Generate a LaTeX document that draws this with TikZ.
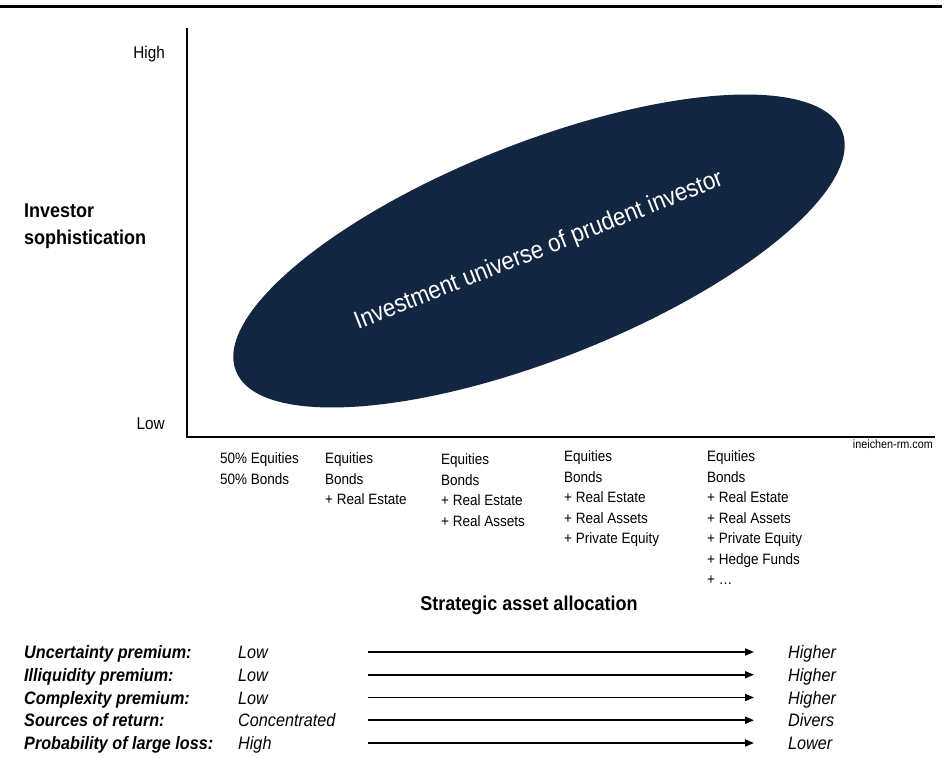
\documentclass[tikz,border=0pt]{standalone}
\usepackage{fontspec}
\setmainfont[FakeStretch=0.9]{Liberation Sans}
\usetikzlibrary{arrows.meta,shapes.geometric}
\definecolor{navy}{RGB}{18,38,66}
\begin{document}
\begin{tikzpicture}[x=1pt,y=-1pt,
  axisline/.style={line width=2.6pt},
  coltext/.style={anchor=north west, inner sep=0pt, align=left, font=\fontsize{15}{20.5}\selectfont},
  ticklab/.style={anchor=base east, inner sep=0pt, font=\fontsize{17}{20}\selectfont},
  boldlab/.style={inner sep=0pt, font=\fontsize{20}{27}\selectfont\bfseries},
  rowlab/.style={anchor=base west, inner sep=0pt, font=\fontsize{18}{20}\selectfont\bfseries\itshape},
  rowval/.style={anchor=base west, inner sep=0pt, font=\fontsize{18}{20}\selectfont\itshape},
  arr/.style={line width=1.8pt, -{Triangle[length=9pt,width=7pt]}},
  blob/.style={ellipse, fill=navy, inner sep=0pt, minimum width=652pt, minimum height=216pt, text=white, font=\fontsize{25}{28}\selectfont}]
\useasboundingbox (0,0) rectangle (946,758);

% top rule
\coordinate (tl) at (0,6);
\coordinate (tr) at (942,6);
\draw[line width=3pt] (tl) -- (tr);

% axes
\coordinate (ytop) at (187,28);
\coordinate (orig) at (187,437);
\coordinate (xend) at (935,437);
\draw[axisline] (ytop) -- (orig) -- (xend);

% ellipse
\node[blob, rotate=21.6] (universe) at (539,251) {Investment universe of prudent investor};

% y-axis labels
\node[ticklab] (high) at (165,58) {High};
\node[ticklab] (low) at (165,429) {Low};
\node[boldlab, anchor=north west, align=left] (ylab) at (24,203.7) {Investor\\sophistication};

% x-axis columns
\node[coltext] (c1) at (220,452.6) {50\% Equities\\50\% Bonds};
\node[coltext] (c2) at (325,452.6) {Equities\\Bonds\\+ Real Estate};
\node[coltext] (c3) at (441,453.6) {Equities\\Bonds\\+ Real Estate\\+ Real Assets};
\node[coltext] (c4) at (564,450.6) {Equities\\Bonds\\+ Real Estate\\+ Real Assets\\+ Private Equity};
\node[coltext] (c5) at (707,450.6) {Equities\\Bonds\\+ Real Estate\\+ Real Assets\\+ Private Equity\\+ Hedge Funds\\+ \dots};

\node[anchor=base east, inner sep=0pt, font=\fontsize{12}{14}\selectfont] (src) at (933,448) {ineichen-rm.com};

\node[boldlab, anchor=base] (xlab) at (529,610) {Strategic asset allocation};

% bottom rows
\foreach \i/\lab/\lo/\hi in {0/Uncertainty premium:/Low/Higher,
                             1/Illiquidity premium:/Low/Higher,
                             2/Complexity premium:/Low/Higher,
                             3/Sources of return:/Concentrated/Divers,
                             4/Probability of large loss:/High/Lower}{
  \node[rowlab] (lab\i) at (24,{658.5+22.75*\i}) {\lab};
  \node[rowval] (lo\i) at (238,{658.5+22.75*\i}) {\lo};
  \node[rowval] (hi\i) at (788,{658.5+22.75*\i}) {\hi};
  \coordinate (as\i) at (368,{652+22.75*\i});
  \coordinate (ae\i) at (754,{652+22.75*\i});
  \draw[arr] (as\i) -- (ae\i);
}
\end{tikzpicture}
\end{document}
